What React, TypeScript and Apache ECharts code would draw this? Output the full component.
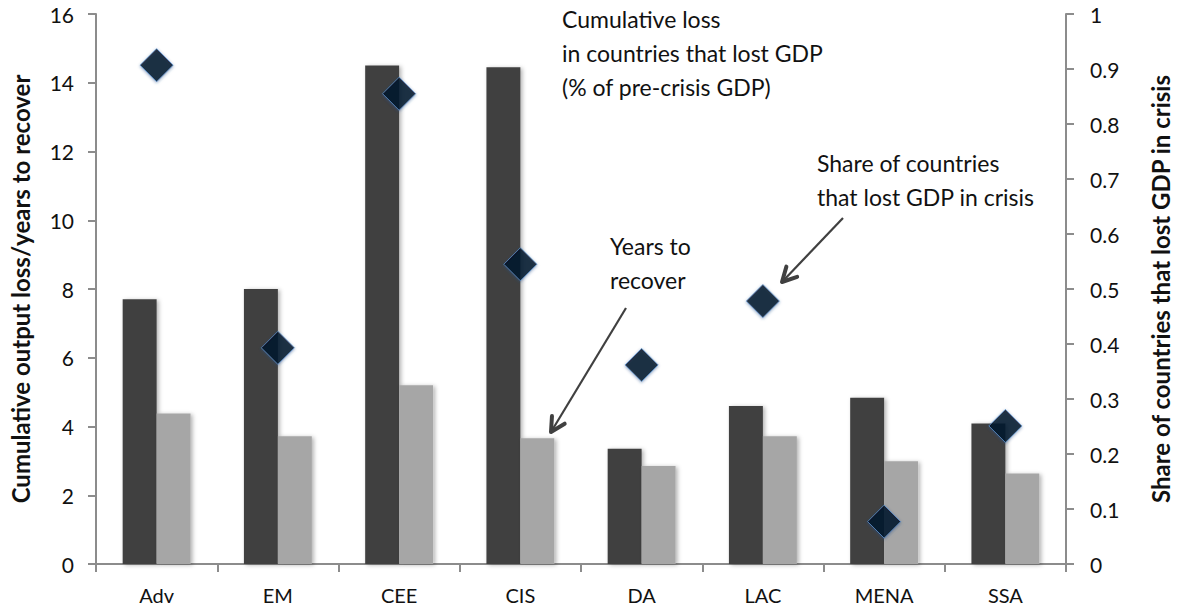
import React, { useEffect, useRef } from "react";
import * as echarts from "echarts";

const categories = ["Adv", "EM", "CEE", "CIS", "DA", "LAC", "MENA", "SSA"];
const cumulativeLoss = [7.7, 8.0, 14.5, 14.45, 3.35, 4.6, 4.84, 4.09];
const yearsToRecover = [4.38, 3.72, 5.2, 3.66, 2.85, 3.72, 2.99, 2.63];
const shareLost = [0.907, 0.393, 0.855, 0.545, 0.362, 0.478, 0.077, 0.251];

const FONT = "Lato";
const ARROW = "#404040";

function arrow(x0: number, y0: number, x1: number, y1: number) {
  const ang = Math.atan2(y1 - y0, x1 - x0);
  const len = 16;
  const spread = Math.PI / 6.5;
  const a1 = ang + Math.PI - spread;
  const a2 = ang + Math.PI + spread;
  return [
    {
      type: "line",
      shape: { x1: x0, y1: y0, x2: x1, y2: y1 },
      style: { stroke: ARROW, lineWidth: 2.2 },
    },
    {
      type: "polyline",
      shape: {
        points: [
          [x1 + len * Math.cos(a1), y1 + len * Math.sin(a1)],
          [x1, y1],
          [x1 + len * Math.cos(a2), y1 + len * Math.sin(a2)],
        ],
      },
      style: { stroke: ARROW, lineWidth: 4, fill: "none", lineCap: "round", lineJoin: "round" },
    },
  ];
}

function label(x: number, y: number, text: string) {
  return {
    type: "text",
    x,
    y,
    style: {
      text,
      fontFamily: FONT,
      fontSize: 23,
      lineHeight: 34,
      fill: "#111",
      textVerticalAlign: "top",
    },
  };
}

export default function App() {
  const ref = useRef<HTMLDivElement>(null);
  useEffect(() => {
    document.body.style.margin = "0";
    if (!ref.current) return;
    const chart = echarts.init(ref.current, null, { renderer: "svg" });
    const axisLineStyle = { color: "#8c8c8c", width: 2 };
    chart.setOption({
      animation: false,
      backgroundColor: "#fff",
      grid: { left: 90, right: 97, top: 14, bottom: 48 },
      xAxis: {
        type: "category",
        data: categories,
        axisLine: { lineStyle: axisLineStyle },
        axisTick: { show: true, length: 8, lineStyle: axisLineStyle, alignWithLabel: false },
        axisLabel: { fontFamily: FONT, fontSize: 20, color: "#111", margin: 21 },
      },
      yAxis: [
        {
          type: "value",
          min: 0,
          max: 16,
          interval: 2,
          name: "Cumulative output loss/years to recover",
          nameLocation: "middle",
          nameRotate: 90,
          nameGap: 64,
          nameTextStyle: { fontFamily: FONT, fontSize: 24, fontWeight: "bold", color: "#111" },
          axisLine: { show: true, lineStyle: axisLineStyle },
          axisTick: { show: true, length: 8, lineStyle: axisLineStyle },
          axisLabel: { fontFamily: FONT, fontSize: 21, color: "#111", margin: 22 },
          splitLine: { show: false },
        },
        {
          type: "value",
          min: 0,
          max: 1,
          interval: 0.1,
          position: "right",
          name: "Share of countries that lost GDP in crisis",
          nameLocation: "middle",
          nameRotate: 90,
          nameGap: 82,
          nameTextStyle: { fontFamily: FONT, fontSize: 24, fontWeight: "bold", color: "#111" },
          axisLine: { show: true, lineStyle: axisLineStyle },
          axisTick: { show: true, length: 8, lineStyle: axisLineStyle },
          axisLabel: {
            fontFamily: FONT,
            fontSize: 21,
            color: "#111",
            margin: 24,
            formatter: (v: number) => (v === 0 || v === 1 ? String(v) : v.toFixed(1)),
          },
          splitLine: { show: false },
        },
      ],
      series: [
        {
          type: "bar",
          data: cumulativeLoss,
          barWidth: "28%",
          barGap: "0%",
          itemStyle: {
            color: "#404040",
            shadowBlur: 4,
            shadowOffsetX: 2,
            shadowOffsetY: 1,
            shadowColor: "rgba(0,0,0,0.3)",
          },
        },
        {
          type: "bar",
          data: yearsToRecover,
          barWidth: "28%",
          barGap: "0%",
          itemStyle: {
            color: "#a6a6a6",
            shadowBlur: 4,
            shadowOffsetX: 2,
            shadowOffsetY: 1,
            shadowColor: "rgba(0,0,0,0.3)",
          },
        },
        {
          type: "scatter",
          yAxisIndex: 1,
          data: shareLost,
          symbol: "diamond",
          symbolSize: 33,
          z: 5,
          itemStyle: {
            color: "#000",
            borderColor: "#5b93d3",
            borderWidth: 1,
            shadowBlur: 3,
            shadowOffsetY: 1,
            shadowColor: "rgba(40,80,140,0.6)",
          },
        },
      ],
      graphic: [
        label(562, 2, "Cumulative loss\nin countries that lost GDP\n(% of pre-crisis GDP)"),
        label(610, 229, "Years to\nrecover"),
        label(817, 146, "Share of countries\nthat lost GDP in crisis"),
        ...arrow(626, 308, 551, 432),
        ...arrow(843, 218, 782, 282),
      ],
    });
    return () => chart.dispose();
  }, []);
  return <div ref={ref} style={{ width: 1180, height: 612 }} />;
}
